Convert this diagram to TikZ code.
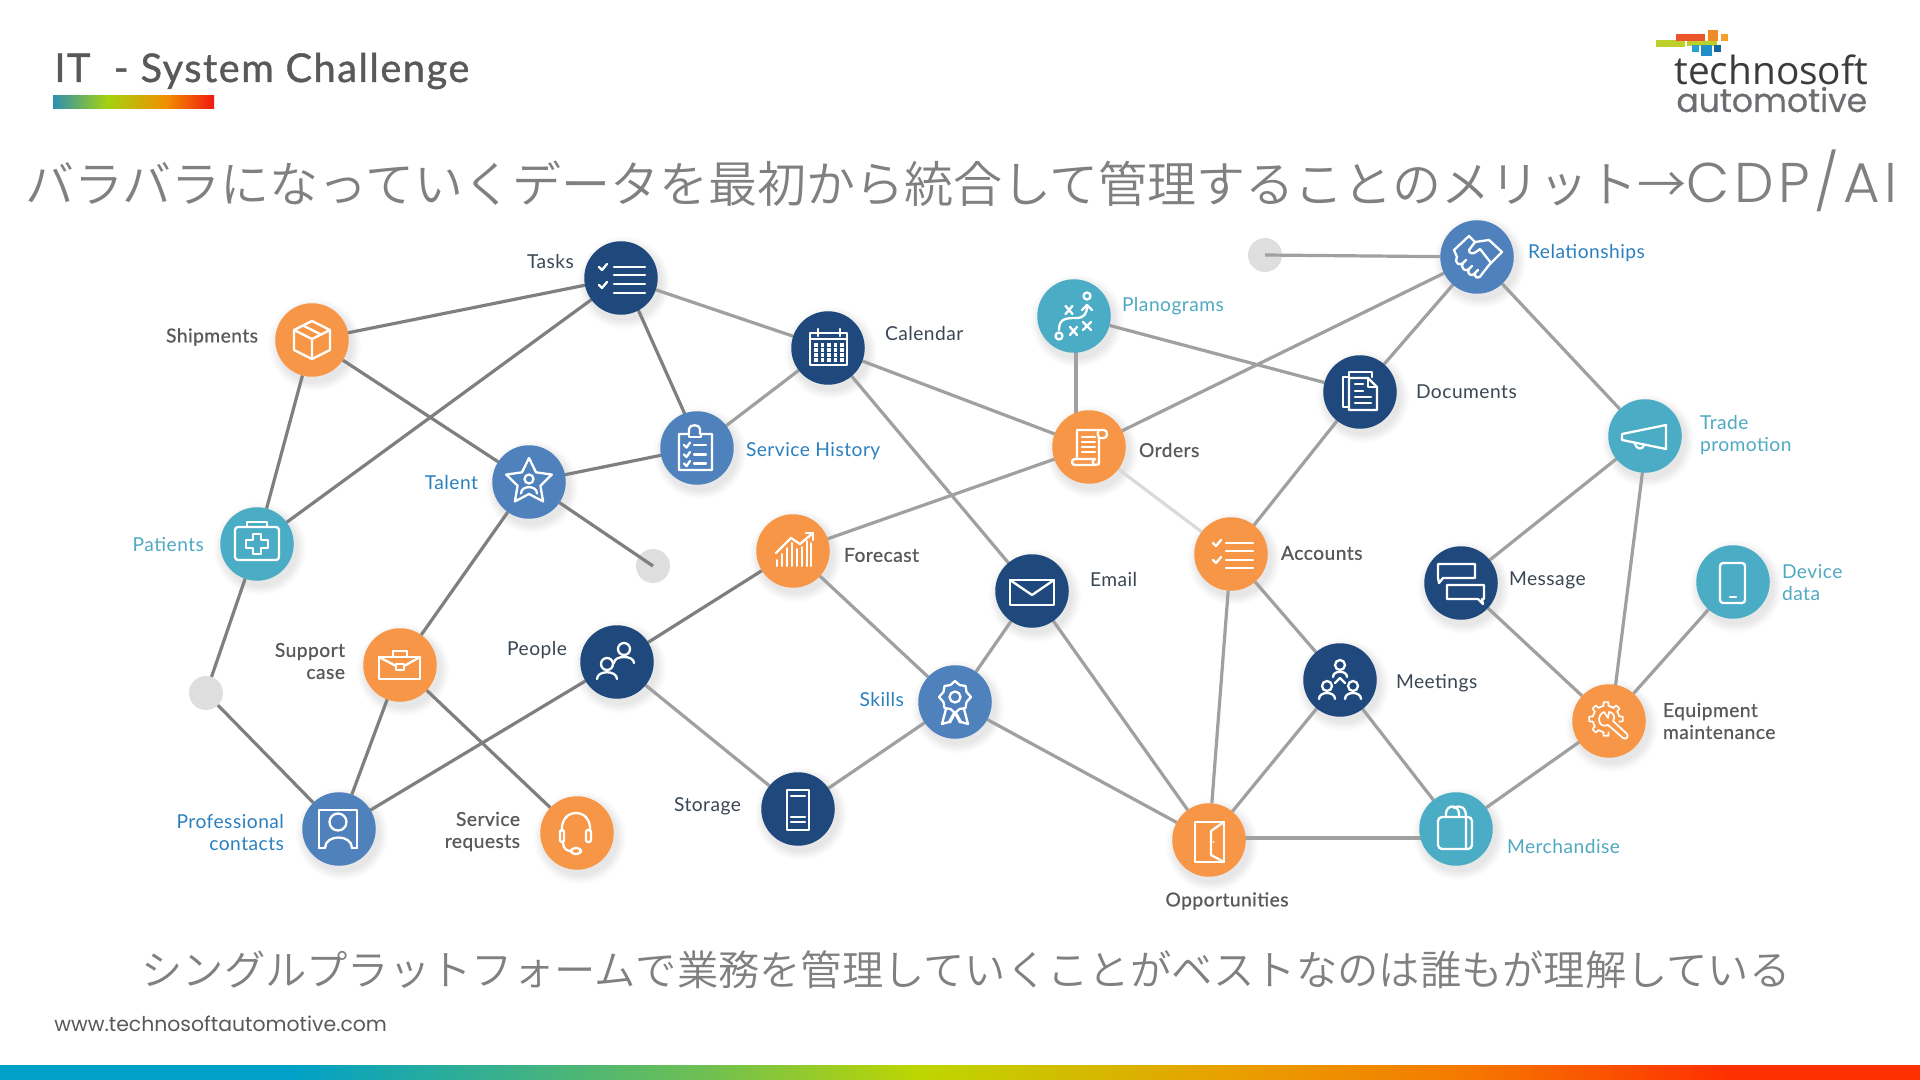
\documentclass[tikz,border=0pt]{standalone}
\usepackage{fontspec}
\setmainfont[LetterSpace=2.5]{Lato}
\newfontfamily\medf[FakeBold=0.7,LetterSpace=2.5]{Lato}
\newfontfamily\ttlf[FakeBold=1.1,LetterSpace=4]{Lato}
\newfontfamily\popf{Poppins}
\newfontfamily\popb[FakeBold=0.4]{Poppins}
\newfontfamily\popl[LetterSpace=8]{Poppins Light}
\newfontfamily\opf{Open Sans}
\newfontfamily\cjk{Noto Sans CJK JP DemiLight}
\definecolor{navy}{HTML}{1F497D}
\definecolor{bluec}{HTML}{4F81BD}
\definecolor{teal}{HTML}{4BACC6}
\definecolor{orng}{HTML}{F79646}
\definecolor{txnavy}{HTML}{3A4654}
\definecolor{txgrey}{HTML}{595959}
\definecolor{txblue}{HTML}{2A80BE}
\definecolor{txteal}{HTML}{4FA9C2}
\definecolor{edgeA}{HTML}{7F7F7F}
\definecolor{edgeB}{HTML}{A0A0A0}
\definecolor{edgeC}{HTML}{DADADA}
\definecolor{dotcol}{HTML}{DEDEDE}
\definecolor{bA}{HTML}{00A0C8}
\definecolor{bB}{HTML}{70C050}
\definecolor{bC}{HTML}{BED600}
\definecolor{bD}{HTML}{E8A000}
\definecolor{bE}{HTML}{F57A00}
\definecolor{bF}{HTML}{FF3000}
\definecolor{tA}{HTML}{2E8FB0}
\definecolor{tB}{HTML}{A5D210}
\definecolor{tC}{HTML}{F09000}
\definecolor{tD}{HTML}{F01A10}
\definecolor{logoL}{HTML}{BCCF2A}
\definecolor{logoR}{HTML}{E8562A}
\definecolor{logoO}{HTML}{F08C28}
\definecolor{logoY}{HTML}{F5A028}
\definecolor{logoB}{HTML}{2A9FD8}
\definecolor{logoM}{HTML}{1F8FC8}
\definecolor{logoN}{HTML}{10689C}
\definecolor{logoT}{HTML}{3C3C3E}
\definecolor{logoG}{HTML}{6D6E71}
\pgfdeclarelayer{dotl}\pgfdeclarelayer{shad}\pgfdeclarelayer{edges}
\pgfsetlayers{dotl,shad,edges,main}
\pgfdeclarehorizontalshading{barb}{100bp}{color(0bp)=(bA);color(32.5bp)=(bA);color(43.5bp)=(bB);color(49bp)=(bC);color(57bp)=(bD);color(63bp)=(bE);color(70bp)=(bF);color(100bp)=(bF)}
\pgfdeclarehorizontalshading{bart}{100bp}{color(0bp)=(tA);color(25bp)=(tA);color(42bp)=(tB);color(60bp)=(tC);color(75bp)=(tD);color(100bp)=(tD)}
\tikzset{
 ci/.style={circle,minimum size=36.75pt,inner sep=0pt,outer sep=0pt},
 gdot/.style={circle,fill=dotcol,minimum size=17pt,inner sep=0pt,outer sep=0pt},
 lab/.style={inner sep=0pt,outer sep=0pt,font=\fontsize{9.6}{11}\selectfont},
 lnavy/.style={lab,text=txnavy},
 lblue/.style={lab,text=txblue},
 lteal/.style={lab,text=txteal},
 lgrey/.style={lab,text=txgrey,font=\fontsize{9.6}{11}\selectfont\medf},
 ea/.style={draw=edgeA,line width=1.6pt},
 eb/.style={draw=edgeB,line width=1.6pt},
 ec/.style={draw=edgeC,line width=1.6pt},
 ic/.style={draw=white,line width=1.15pt,line join=round,line cap=round},
}
\newcommand\pers[5]{\draw (#1,#2) circle (#3);\draw ({#1-#4},{#2+#3+#5}) .. controls ({#1-#4},{#2+#3}) and ({#1+#4},{#2+#3}) .. ({#1+#4},{#2+#3+#5});}
\begin{document}
\begin{tikzpicture}[x=0.5pt,y=-0.5pt]
\useasboundingbox (0,0) rectangle (1920,1080);
\begin{pgfonlayer}{dotl}
\fill[white] (0,0) rectangle (1920,1080);
\end{pgfonlayer}
% header
\node[anchor=base west,inner sep=0pt,text=txgrey,font=\fontsize{19.8}{22}\selectfont\ttlf] (title) at (54,82) {IT\ \ -\hspace{6pt}System Challenge};
\shade[shading=bart] (53,96) rectangle (214,109);
\node[anchor=base west,inner sep=0pt,text=gray,font=\fontsize{24.5}{28}\selectfont\cjk] (jptop) at (25,203) {バラバラになっていくデータを最初から統合して管理することのメリット→{\fontsize{28}{30}\selectfont\popl CDP/AI}};
\node[anchor=base west,inner sep=0pt,text=gray,font=\fontsize{20.65}{24}\selectfont\cjk] (jpbot) at (141,985) {シングルプラットフォームで業務を管理していくことがベストなのは誰もが理解している};
\node[anchor=base west,inner sep=0pt,text=txgrey,font=\fontsize{10.2}{12}\selectfont\popf] (www) at (54,1031) {www.technosoftautomotive.com};
\shade[shading=barb] (0,1065) rectangle (1920,1080);
% logo
\fill[logoL] (1656,40) rectangle (1685,47);
\fill[logoR] (1676,34) rectangle (1705,41);
\fill[logoL] (1687,41) rectangle (1717,46);
\fill[logoO] (1708,30) rectangle (1718,41);
\fill[logoY] (1721,34) rectangle (1728,41);
\fill[logoB] (1692,45) rectangle (1699,52);
\fill[logoM] (1701,45) rectangle (1712,56);
\fill[logoN] (1714,45) rectangle (1721,52);
\node[anchor=base west,inner sep=0pt,text=logoT,font=\fontsize{19.4}{20}\selectfont\opf] (logoa) at (1674,85) {technosoft};
\node[anchor=base west,inner sep=0pt,text=logoG,font=\fontsize{16.5}{18}\selectfont\popb] (logob) at (1676,112) {automotive};
% grey dots
\begin{pgfonlayer}{dotl}
\node[gdot] (dota) at (653,566) {};
\node[gdot] (dotb) at (206,693) {};
\node[gdot] (dotc) at (1265,255) {};
\end{pgfonlayer}
% nodes
\node[ci,fill=navy] (tasks) at (621,278) {};
\node[ci,fill=navy] (calendar) at (828,348) {};
\node[ci,fill=orng] (shipments) at (312,340) {};
\node[ci,fill=bluec] (history) at (697,448) {};
\node[ci,fill=bluec] (talent) at (529,482) {};
\node[ci,fill=teal] (patients) at (257,544) {};
\node[ci,fill=orng] (support) at (400,665) {};
\node[ci,fill=navy] (people) at (617,662) {};
\node[ci,fill=orng] (forecast) at (793,551) {};
\node[ci,fill=bluec] (contacts) at (339,829) {};
\node[ci,fill=orng] (requests) at (577,833) {};
\node[ci,fill=navy] (storage) at (798,809) {};
\node[ci,fill=bluec] (skills) at (955,702) {};
\node[ci,fill=navy] (email) at (1032,591) {};
\node[ci,fill=orng] (orders) at (1089,447) {};
\node[ci,fill=teal] (planograms) at (1074,316) {};
\node[ci,fill=navy] (documents) at (1360,392) {};
\node[ci,fill=bluec] (relations) at (1477,257) {};
\node[ci,fill=orng] (accounts) at (1231,554) {};
\node[ci,fill=navy] (meetings) at (1340,680) {};
\node[ci,fill=orng] (opps) at (1209,840) {};
\node[ci,fill=teal] (merch) at (1456,829) {};
\node[ci,fill=navy] (message) at (1461,583) {};
\node[ci,fill=teal] (trade) at (1645,436) {};
\node[ci,fill=teal] (device) at (1733,582) {};
\node[ci,fill=orng] (equip) at (1609,721) {};
% shadows
\begin{pgfonlayer}{shad}
\foreach \n in {tasks,calendar,shipments,history,talent,patients,support,people,forecast,contacts,requests,storage,skills,email,orders,planograms,documents,relations,accounts,meetings,opps,merch,message,trade,device,equip}{
 \begin{scope}[shift={(\n.center)}]
 \foreach \r in {38,39.5,41,42.5,44,46}{\fill[black,opacity=.016] (3,5) circle (\r);}
 \end{scope}}
\end{pgfonlayer}
% edges
\begin{pgfonlayer}{edges}
\draw[ea] (shipments) -- (tasks);
\draw[ea] (shipments) -- (talent);
\draw[ea] (shipments) -- (patients);
\draw[ea] (tasks) -- (patients);
\draw[ea] ([xshift=1.5pt]tasks.center) -- ([xshift=1.5pt]history.center);
\draw[eb] (tasks) -- (calendar);
\draw[eb] (calendar) -- (history);
\draw[ea] (history) -- (talent);
\draw[ea] (talent) -- (dota.center);
\draw[ea] (talent) -- (support);
\draw[ea] (patients) -- (dotb);
\draw[ea] (dotb) -- (contacts);
\draw[ea] (support) -- (contacts);
\draw[ea] (support) -- (requests);
\draw[ea] (people) -- (contacts);
\draw[ea] (people) -- (forecast);
\draw[eb] (people) -- (storage);
\draw[eb] (storage) -- (skills);
\draw[eb] (forecast) -- (skills);
\draw[eb] (forecast) -- (orders);
\draw[eb] (calendar) -- (orders);
\draw[eb] (calendar) -- (email);
\draw[eb] (email) -- (skills);
\draw[eb] (email) -- (opps);
\draw[eb] (skills) -- (opps);
\draw[eb] ([xshift=1pt]planograms.center) -- ([xshift=1pt]planograms.center |- orders.center);
\draw[eb] (planograms) -- (documents);
\draw[eb] (orders) -- (relations);
\draw[ec] (orders) -- (accounts);
\draw[eb] (documents) -- (relations);
\draw[eb] (documents) -- (accounts);
\draw[eb] (dotc.center) -- (relations);
\draw[eb] (relations) -- (trade);
\draw[eb] (accounts) -- (meetings);
\draw[eb] (accounts) -- (opps);
\draw[eb] (meetings) -- (opps);
\draw[eb] (meetings) -- (merch);
\draw[eb] ([yshift=1pt]opps.center) -- ([yshift=1pt]opps.center -| merch.center);
\draw[eb] (merch) -- (equip);
\draw[eb] (message) -- (trade);
\draw[eb] (message) -- (equip);
\draw[eb] ([xshift=1pt]trade.center) -- ([xshift=1pt]equip.center);
\draw[eb] (device) -- (equip);
\end{pgfonlayer}
% labels
\node[lnavy,anchor=east] (ltasks) at (574,262) {Tasks};
\node[lnavy,anchor=west] (lcalendar) at (885,334) {Calendar};
\node[lgrey,anchor=east] (lshipments) at (258,337) {Shipments};
\node[lblue,anchor=west] (lhistory) at (746,451.5) {Service History};
\node[lblue,anchor=east] (ltalent) at (478,483) {Talent};
\node[lteal,anchor=east] (lpatients) at (204,545) {Patients};
\node[lgrey,anchor=east,align=right] (lsupport) at (345,661) {Support\\case};
\node[lnavy,anchor=east] (lpeople) at (567,650.5) {People};
\node[lgrey,anchor=west] (lforecast) at (844,555) {Forecast};
\node[lgrey,anchor=east,align=right] (lrequests) at (520,831.5) {Service\\requests};
\node[lblue,anchor=east,align=right] (lcontacts) at (284,832.5) {Professional\\contacts};
\node[lnavy,anchor=east] (lstorage) at (741,806.5) {Storage};
\node[lblue,anchor=east] (lskills) at (904,699) {Skills};
\node[lnavy,anchor=west] (lemail) at (1090,580) {Email};
\node[lgrey,anchor=west] (lorders) at (1139,450) {Orders};
\node[lteal,anchor=west] (lplanograms) at (1122,306.5) {Planograms};
\node[lnavy,anchor=west] (ldocuments) at (1416,392) {Documents};
\node[lblue,anchor=west] (lrelations) at (1528,253.5) {Relationships};
\node[lgrey,anchor=west] (laccounts) at (1281,553) {Accounts};
\node[lnavy,anchor=west] (lmeetings) at (1396,683.5) {Meetings};
\node[lgrey,anchor=center] (lopps) at (1227,901) {Opportunities};
\node[lteal,anchor=west] (lmerch) at (1507,846) {Merchandise};
\node[lnavy,anchor=west] (lmessage) at (1509,580.5) {Message};
\node[lteal,anchor=west,align=left] (ltrade) at (1700,435) {Trade\\promotion};
\node[lteal,anchor=west,align=left] (ldevice) at (1782,582.5) {Device\\data};
\node[lgrey,anchor=west,align=left] (lequip) at (1663,721) {Equipment\\maintenance};
% ---------- icons ----------
% shipments: box
\begin{scope}[shift={(shipments.center)},ic]
\draw (0,-19) -- (18,-10) -- (18,10) -- (0,19) -- (-18,10) -- (-18,-10) -- cycle;
\draw (-18,-10) -- (0,-1) -- (18,-10) (0,-1) -- (0,19);
\draw (-9,-14.5) -- (9,-5.5);
\end{scope}
% tasks
\begin{scope}[shift={(tasks.center)},ic]
\foreach \y in {-11,-3,6,15}{\draw (-7,\y) -- (24,\y);}
\foreach \y in {-11,7}{\draw (-22,\y) -- (-19,{\y+3}) -- (-14,{\y-3});}
\end{scope}
% accounts
\begin{scope}[shift={(accounts.center)},ic]
\foreach \y in {-11,-3,6,14}{\draw (-5,\y) -- (22,\y);}
\foreach \y in {-11,6}{\draw (-18,\y) -- (-15,{\y+3}) -- (-10,{\y-3});}
\end{scope}
% calendar
\begin{scope}[shift={(calendar.center)},ic]
\draw (-18,-15) rectangle (19,17);
\draw (-18,-9) -- (19,-9);
\draw (-10,-19) -- (-10,-12) (12,-19) -- (12,-12);
\foreach \x in {-12,-5.5,1,7.5,14}{\foreach \y in {-3,2,7,12}{\fill[white] ({\x-1.6},{\y-1.6}) rectangle ({\x+1.6},{\y+1.6});}}
\end{scope}
% history: clipboard
\begin{scope}[shift={(history.center)},ic]
\draw (-18,-14) -- (-8,-14) -- (-8,-19) .. controls (-8,-24) and (3,-24) .. (3,-19) -- (3,-14) -- (15,-14) -- (15,22) -- (-18,22) -- cycle;
\draw (-8,-14) -- (-8,-11) -- (4,-11) -- (4,-14);
\foreach \y in {-3,6.5,15.5}{\draw (-13,\y) -- (-10.5,{\y+2.5}) -- (-7,{\y-2.5}); \draw (-3,\y) -- (9,\y);}
\end{scope}
% talent: star
\begin{scope}[shift={(talent.center)},ic]
\draw (0,-24) -- (7,-9.7) -- (22.8,-7.4) -- (11.4,3.7) -- (14.1,19.4) -- (0,12) -- (-14.1,19.4) -- (-11.4,3.7) -- (-22.8,-7.4) -- (-7,-9.7) -- cycle;
\draw (0,-3) circle (4.5);
\draw (-8,11.5) .. controls (-8,3) and (8,3) .. (8,11.5);
\end{scope}
% patients: medical case
\begin{scope}[shift={(patients.center)},ic]
\draw[rounded corners=1.5pt] (-22,-17) rectangle (22,16);
\draw (-10,-17) -- (-10,-22) -- (10,-22) -- (10,-17);
\draw (-4,-10) -- (4,-10) -- (4,-4) -- (11,-4) -- (11,4) -- (4,4) -- (4,10) -- (-4,10) -- (-4,4) -- (-11,4) -- (-11,-4) -- (-4,-4) -- cycle;
\end{scope}
% support: briefcase
\begin{scope}[shift={(support.center)},ic]
\draw (-21,-8) rectangle (20,14);
\draw (-7,-8) -- (-7,-14) -- (7,-14) -- (7,-8);
\draw (-21,-8) -- (-4,1) (4,1) -- (20,-8);
\draw (-4,-1) rectangle (4,5);
\end{scope}
% people
\begin{scope}[shift={(people.center)},ic]
\pers{7}{-13}{6}{10}{8}
\pers{-10}{2}{6}{10}{9}
\end{scope}
% forecast
\begin{scope}[shift={(forecast.center)},ic]
\draw (-17,2) -- (-2,-13) -- (7,-7) -- (20,-18);
\draw (13,-18) -- (20,-18) -- (20,-11);
\draw[line width=1pt] (-16,15) -- (-16,9) (-11,15) -- (-11,3) (-6,15) -- (-6,-3) (-1,15) -- (-1,-8) (4,15) -- (4,-2) (9,15) -- (9,-4) (14,15) -- (14,-10) (18,15) -- (18,-8);
\end{scope}
% orders: scroll
\begin{scope}[shift={(orders.center)},ic]
\draw (-12,12) -- (-12,-17) -- (15,-17) .. controls (19,-17) and (19,-9) .. (15,-9) -- (10,-9);
\draw (10,-17) .. controls (7,-14) and (10,-10) .. (10,-9) -- (10,17);
\draw (-7,-10) -- (6,-10) (-7,-5) -- (6,-5) (-7,0) -- (6,0) (-7,5) -- (6,5);
\draw (-14,12) -- (6,12) .. controls (3,14) and (3,17) .. (6,18) -- (-14,18) .. controls (-18,18) and (-18,12) .. (-14,12);
\draw (6,18) .. controls (8,18) and (10,18) .. (10,14);
\end{scope}
% planograms
\begin{scope}[shift={(planograms.center)},ic]
\draw (13,-20) circle (3.5);
\draw (-15,20) circle (3.5);
\draw (-8.5,-10) -- (-1.5,-2) (-1.5,-10) -- (-8.5,-2);
\draw (-4,11) -- (3,19) (3,11) -- (-4,19);
\draw (9,6) -- (17,14) (17,6) -- (9,14);
\draw (-15,14) .. controls (-15,3) and (-9,2) .. (2,2) .. controls (10,2) and (13,-2) .. (13,-10);
\draw (8,-6) -- (13,-11) -- (18,-6);
\end{scope}
% documents
\begin{scope}[shift={(documents.center)},ic]
\draw (-11,-15) -- (-11,-20) -- (12,-20) -- (12,-15);
\draw (-11,-15) -- (-17,-15) -- (-17,15) -- (-11,15);
\draw (-11,-14) -- (8,-14) -- (17,-5) -- (17,18) -- (-11,18) -- cycle;
\draw (8,-14) -- (8,-5) -- (17,-5);
\draw (-5,-8) -- (3,-8) (-5,-1) -- (3,-1) (-5,5) -- (11,5) (-5,11) -- (11,11);
\end{scope}
% relationships: handshake
\begin{scope}[shift={(relations.center)},ic]
\draw (-23,-7) -- (-8,-21) -- (-2,-15) -- (12,-17) -- (25,-5) -- (12,8) -- (5,17);
\draw (-23,-7) -- (-20,0) .. controls (-23,7) and (-17,9) .. (-14,6) .. controls (-17,12) and (-11,15) .. (-8,12) .. controls (-11,18) and (-4,20) .. (-2,16) .. controls (-3,22) and (3,22) .. (5,17);
\draw (-14,6) -- (-11,3) (-8,12) -- (-5,9) (-2,16) -- (1,13);
\draw (-2,-15) -- (-8,-7) .. controls (-8,-3) and (-4,-3) .. (-1,-5) -- (3,-8) -- (14,6);
\end{scope}
% trade: megaphone
\begin{scope}[shift={(trade.center)},ic]
\draw (-23,-2) -- (21,-11) -- (21,13) -- (-23,4) -- cycle;
\draw (-10,7) .. controls (-9,14) and (-2,14) .. (-1,9);
\end{scope}
% message
\begin{scope}[shift={(message.center)},ic]
\draw (-23,-19) -- (14,-19) -- (14,-5) -- (-18,-5) -- (-22,0) -- (-23,-5) -- cycle;
\draw (-14,2) -- (23,2) -- (23,16) -- (21,16) -- (22,21) -- (17,16) -- (-14,16) -- cycle;
\end{scope}
% device
\begin{scope}[shift={(device.center)},ic]
\draw[rounded corners=1.5pt] (-13,-19) rectangle (12,21);
\draw (-3,15) -- (3,15);
\end{scope}
% meetings
\begin{scope}[shift={(meetings.center)},ic]
\pers{0}{-15}{5}{7}{7}
\pers{-13}{6}{5}{8}{8}
\pers{13}{6}{5}{8}{8}
\draw (-5,3) -- (0,-2) -- (5,3);
\end{scope}
% merchandise
\begin{scope}[shift={(merch.center)},ic]
\draw[rounded corners=2pt] (-18,-12) -- (16,-12) -- (16,20) -- (-18,20) -- cycle;
\draw (-10,-12) -- (-10,-15) .. controls (-10,-25) and (3,-25) .. (3,-15) -- (3,-12);
\draw (-2,-21) .. controls (5,-25) and (10,-21) .. (10,-12) -- (10,20);
\end{scope}
% opportunities: door
\begin{scope}[shift={(opps.center)},ic]
\draw (15,-18) -- (-14,-18) -- (-14,22) -- (15,22) -- cycle;
\draw (15,-18) -- (2,-9) -- (2,15) -- (15,22);
\fill[white] (4.5,2) circle (1);
\end{scope}
% skills: rosette
\begin{scope}[shift={(skills.center)},ic]
\draw (0,-21) -- (4.5,-17) -- (10.5,-16) -- (11.5,-10) -- (16,-5) -- (11.5,0) -- (10.5,6) -- (4.5,7) -- (0,11) -- (-4.5,7) -- (-10.5,6) -- (-11.5,0) -- (-16,-5) -- (-11.5,-10) -- (-10.5,-16) -- (-4.5,-17) -- cycle;
\draw (0,-5) circle (5.5);
\draw (-9,7) -- (-13,22) -- (-6,20) -- (-1,11);
\draw (9,7) -- (13,22) -- (6,20) -- (1,11);
\draw (-5,20.5) -- (0,11) -- (5,20.5);
\end{scope}
% storage
\begin{scope}[shift={(storage.center)},ic]
\draw (-11,-19) rectangle (11,21);
\draw (-7,-13) -- (7,-13) (-7,8) -- (7,8) (-7,13) -- (7,13);
\end{scope}
% email
\begin{scope}[shift={(email.center)},ic]
\draw (-22,-11) rectangle (22,14);
\draw (-22,-11) -- (0,4) -- (22,-11);
\end{scope}
% requests: headset
\begin{scope}[shift={(requests.center)},ic]
\draw (-15,-2) .. controls (-17,-26) and (15,-26) .. (13,-2);
\draw[rounded corners=1pt] (-17,-3) rectangle (-13,9);
\draw[rounded corners=1pt] (9,-3) rectangle (14,9);
\draw (-14,9) .. controls (-14,15) and (-11,18) .. (-6,18);
\draw[rounded corners=2pt] (-6,15) rectangle (4,21);
\end{scope}
% contacts
\begin{scope}[shift={(contacts.center)},ic]
\draw (-20,19) -- (-20,-19) -- (18,-19) -- (18,19);
\draw (-1,-7) circle (8.5);
\draw (-14,19) .. controls (-14,5) and (13,5) .. (13,19);
\draw (-20,19) -- (-14,19) (13,19) -- (18,19);
\end{scope}
% equipment: gear + wrench
\begin{scope}[shift={(equip.center)},ic,line width=0.85pt]
\begin{scope}[shift={(-3,-2)}]
\foreach \a in {-90,-45,0,90,135,180,225}{
 \draw ({\a-11}:13.5) -- ({\a-8}:17) -- ({\a+8}:17) -- ({\a+11}:13.5);}
\foreach \a in {-90,-45,90,135,180,225}{\draw ({\a+11}:13.5) arc ({\a+11}:{\a+34}:13.5);}
\draw ({-45-11-23}:13.5) arc ({-45-11-23}:{-45-11}:13.5);
\end{scope}
\draw (-5,-9) .. controls (-13,-6) and (-11,8) .. (-1,4) -- (14,17) .. controls (17,19) and (20,16) .. (18,13) -- (4,0) .. controls (7,-4) and (4,-9) .. (0,-9) -- (-1,-3) -- (-5,-9);
\end{scope}
\end{tikzpicture}
\end{document}
